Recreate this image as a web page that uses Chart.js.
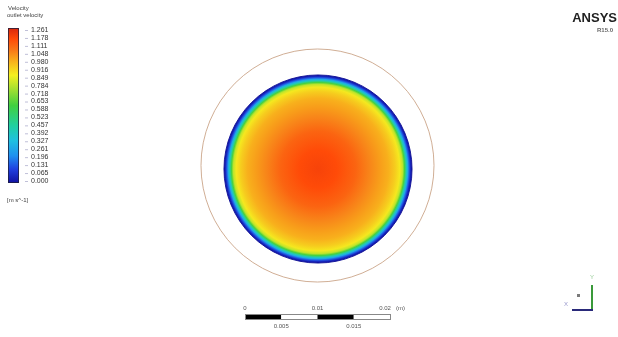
<!DOCTYPE html>
<html lang="en">
<head>
  <meta charset="UTF-8">
  <title>Velocity contour - outlet</title>
  <script src="https://cdn.jsdelivr.net/npm/chart.js"></script>
  <style>
    html, body { margin: 0; padding: 0; background: #fff; }
    #wrap { width: 618px; height: 337px; position: relative; }
  </style>
</head>
<body>
  <div id="wrap"><canvas id="contour"></canvas></div>

  <script>
    // legend tick labels, read top to bottom (m s^-1)
    const legendLabels = ['1.261', '1.178', '1.111', '1.048', '0.980', '0.916', '0.849', '0.784', '0.718', '0.653',
                          '0.588', '0.523', '0.457', '0.392', '0.327', '0.261', '0.196', '0.131', '0.065', '0.000'];
    const vMin = 0.0;
    const vMax = 1.261;

    // radial velocity profile at the outlet (r / R  ->  velocity)
    const profileR = [0.00, 0.20, 0.40, 0.55, 0.66, 0.75, 0.82, 0.87, 0.90, 0.92, 0.94, 0.955, 0.97, 0.985, 1.00];
    const profileV = [1.19, 1.17, 1.12, 1.06, 1.02, 0.99, 0.94, 0.89, 0.80, 0.64, 0.42, 0.28, 0.15, 0.05, 0.00];

    // geometry (m)
    const pipeRadius = 0.01297;
    const wallRadius = 0.01607;
    const wallCentre = { x: -0.00007, y: 0.00048 };

    // ruler marks (m)
    const rulerTop = [0, 0.01, 0.02];
    const rulerBottom = [0.005, 0.015];

    // colour map, fraction of range -> colour
    const cmapPos = [0, 0.09, 0.175, 0.273, 0.37, 0.5, 0.61, 0.695, 0.78, 0.857, 0.93, 1];
    const cmapCol = ['#1010a0', '#2040e0', '#2090f0', '#20c0e0', '#20d0a0', '#40d040', '#a8e030',
                     '#f4f020', '#f8b41c', '#f87818', '#ff4a08', '#d8260c'];

    function hexToRgb(h) {
      return [parseInt(h.substr(1, 2), 16), parseInt(h.substr(3, 2), 16), parseInt(h.substr(5, 2), 16)];
    }

    function colourFor(v) {
      let f = (v - vMin) / (vMax - vMin);
      f = Math.max(0, Math.min(1, f));
      for (let i = 1; i < cmapPos.length; i++) {
        if (f <= cmapPos[i]) {
          let t = (f - cmapPos[i - 1]) / (cmapPos[i] - cmapPos[i - 1]);
          let a = hexToRgb(cmapCol[i - 1]), b = hexToRgb(cmapCol[i]);
          let c = a.map((x, k) => Math.round(x + (b[k] - x) * t));
          return `rgb(${c[0]},${c[1]},${c[2]})`;
        }
      }
      return cmapCol[cmapCol.length - 1];
    }

    function radiusPx(chart, r) {
      let x = chart.scales.x;
      if (!x) return 0;
      let d = Math.abs(x.getPixelForValue(r) - x.getPixelForValue(0));
      return Number.isFinite(d) ? d : 0;
    }

    // disk fill: radial gradient built from the profile
    function diskFill(ctx) {
      let chart = ctx.chart;
      if (!chart.scales.x || !chart.scales.y) return colourFor(1.0);
      let cx = chart.scales.x.getPixelForValue(0);
      let cy = chart.scales.y.getPixelForValue(0);
      let R = radiusPx(chart, pipeRadius);
      if (!Number.isFinite(cx) || !Number.isFinite(cy) || !(R > 0)) return colourFor(1.0);
      let g = chart.ctx.createRadialGradient(cx, cy, 0, cx, cy, R);
      for (let i = 0; i < profileR.length; i++) {
        g.addColorStop(profileR[i], colourFor(profileV[i]));
      }
      return g;
    }

    // legend, logo, ruler and axis triad
    const overlay = {
      id: 'overlay',
      afterDraw(chart) {
        const c = chart.ctx;
        c.save();

        // legend title
        c.fillStyle = '#444';
        c.font = '6px "Liberation Sans", Arial, sans-serif';
        c.textBaseline = 'alphabetic';
        c.textAlign = 'left';
        c.fillText('Velocity', 8, 10);
        c.fillText('outlet velocity', 7, 17);

        // colour bar
        const bx = 8, bw = 11, top = 28, bottom = 183;
        let lg = c.createLinearGradient(0, bottom, 0, top);
        cmapPos.forEach((p, i) => lg.addColorStop(p, cmapCol[i]));
        c.fillStyle = lg;
        c.fillRect(bx, top, bw, bottom - top);
        c.strokeStyle = 'rgba(30,30,60,0.8)';
        c.lineWidth = 1;
        c.strokeRect(bx + 0.5, top + 0.5, bw - 1, bottom - top - 1);

        // tick labels
        c.font = '7px "Liberation Sans", Arial, sans-serif';
        c.textBaseline = 'middle';
        const n = legendLabels.length;
        for (let i = 0; i < n; i++) {
          let y = top + 2 + i * (bottom - top - 4) / (n - 1);
          c.strokeStyle = 'rgba(150,150,190,0.6)';
          c.beginPath();
          c.moveTo(25, y + 0.5);
          c.lineTo(28, y + 0.5);
          c.stroke();
          c.fillStyle = '#333';
          c.fillText(legendLabels[i], 31, y);
        }
        c.fillStyle = '#444';
        c.font = '6px "Liberation Sans", Arial, sans-serif';
        c.fillText('[m s^-1]', 7, 200);

        // logo
        c.textAlign = 'right';
        c.textBaseline = 'alphabetic';
        c.fillStyle = '#222';
        c.font = 'bold 13px "Liberation Sans", Arial, sans-serif';
        c.fillText('ANSYS', 617, 22);
        c.fillStyle = '#666';
        c.font = 'bold 6px "Liberation Sans", Arial, sans-serif';
        c.fillText('R15.0', 613, 32);

        // ruler
        const sx = chart.scales.x;
        const ppm = sx.getPixelForValue(1) - sx.getPixelForValue(0);
        const rx = 245, ry = 314, rh = 6;
        const seg = 0.005;
        for (let k = 0; k < 4; k++) {
          c.fillStyle = k % 2 === 0 ? '#000' : '#fff';
          c.fillRect(rx + k * seg * ppm, ry, seg * ppm, rh);
        }
        c.strokeStyle = '#888';
        c.strokeRect(rx + 0.5, ry + 0.5, 4 * seg * ppm, rh - 1);
        c.fillStyle = '#555';
        c.font = '6px "Liberation Sans", Arial, sans-serif';
        c.textAlign = 'center';
        rulerTop.forEach(m => c.fillText(m === 0 ? '0' : m.toFixed(2), rx + m * ppm - (m === 0.02 ? 5 : 0), 310));
        c.textAlign = 'left';
        c.fillText('(m)', rx + rulerTop[2] * ppm + 6, 310);
        c.textAlign = 'center';
        rulerBottom.forEach(m => c.fillText(m.toFixed(3), rx + m * ppm, 328));

        // axis triad
        c.lineWidth = 2;
        c.strokeStyle = '#3a9a3a';
        c.beginPath(); c.moveTo(592, 285); c.lineTo(592, 310); c.stroke();
        c.strokeStyle = '#2a2a7a';
        c.beginPath(); c.moveTo(572, 310); c.lineTo(593, 310); c.stroke();
        c.fillStyle = '#7a7a7a';
        c.fillRect(577, 294, 3, 3);
        c.font = '6px "Liberation Sans", Arial, sans-serif';
        c.fillStyle = '#9c9';
        c.fillText('Y', 592, 279);
        c.fillStyle = '#99c';
        c.fillText('X', 566, 306);

        c.restore();
      }
    };

    const pxPerM = 7250;
    const ctx = document.getElementById('contour').getContext('2d');
    const chart = new Chart(ctx, {
      type: 'scatter',
      data: {
        datasets: [
          {
            label: 'wall',
            data: [wallCentre],
            pointRadius: c => radiusPx(c.chart, wallRadius),
            backgroundColor: 'rgba(0,0,0,0)',
            borderColor: 'rgba(200,160,130,0.85)',
            borderWidth: 1,
            clip: false
          },
          {
            label: 'Velocity',
            data: [{ x: 0, y: 0 }],
            pointRadius: c => radiusPx(c.chart, pipeRadius),
            backgroundColor: diskFill,
            borderColor: 'rgba(16,16,150,0.9)',
            borderWidth: 1,
            clip: false
          }
        ]
      },
      options: {
        responsive: true,
        maintainAspectRatio: false,
        animation: false,
        events: [],
        layout: { padding: 0, autoPadding: false },
        plugins: { legend: { display: false }, tooltip: { enabled: false } },
        scales: {
          x: { type: 'linear', display: false, min: -318 / pxPerM, max: 300 / pxPerM },
          y: { type: 'linear', display: false, min: -168 / pxPerM, max: 169 / pxPerM }
        }
      },
      plugins: [overlay]
    });
    chart.update();
  </script>
</body>
</html>
